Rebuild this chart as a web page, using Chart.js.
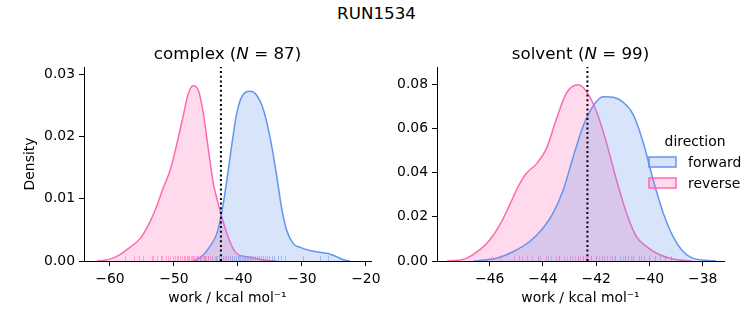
<!DOCTYPE html>
<html>
<head>
<meta charset="utf-8">
<script src="https://cdn.jsdelivr.net/npm/chart.js@4/dist/chart.umd.min.js"></script>
<style>
    body { margin: 0; background: #fff; width: 753px; height: 325px; position: relative; overflow: hidden; }
    #suptitle { position: absolute; left: 0; top: 2.5px; width: 753px; text-align: center; font: 16.7px 'DejaVu Sans'; line-height: 20px; color: #000; }
    canvas { position: absolute; top: 0; }
    #complexChart { left: 0; }
    #solventChart { left: 376px; }
</style>
</head>
<body>
<div id="suptitle">RUN1534</div>
<canvas id="complexChart" width="400" height="325"></canvas>
<canvas id="solventChart" width="377" height="325"></canvas>
<script>
// KDE curves
const complexForwardX = [-47, -46.5, -45.4, -44.4, -43.3, -42.55, -41.8, -41.0, -40.2, -39.4, -38.1, -37.1, -36.0, -35.0, -34.0, -33.2, -32.4, -31.35, -30.3, -28.75, -27.2, -25.9, -24.6, -23.5, -22.5];
const complexForwardY = [0, 0.0002, 0.001, 0.0023, 0.0044, 0.0077, 0.0125, 0.0184, 0.0237, 0.0264, 0.0273, 0.0267, 0.0243, 0.020, 0.0141, 0.0087, 0.005, 0.0028, 0.0022, 0.0017, 0.0014, 0.0012, 0.0007, 0.0002, 0];
const complexReverseX = [-62, -61, -60, -58.5, -57.4, -55.3, -53.75, -52.7, -51.7, -50.6, -49.6, -48.5, -47.8, -47.0, -46.2, -45.4, -44.6, -43.85, -43.1, -42.3, -41.25, -40.2, -38.65, -37.1, -35.5, -34];
const complexReverseY = [0, 0.0001, 0.0003, 0.0010, 0.0018, 0.0036, 0.0063, 0.0088, 0.0117, 0.0146, 0.0186, 0.0236, 0.0268, 0.0282, 0.0275, 0.0237, 0.0178, 0.0125, 0.0093, 0.0063, 0.0031, 0.0012, 0.0007, 0.0004, 0.0001, 0];

const solventForwardX = [-46.6, -46.2, -45.75, -45.12, -44.5, -44.0, -43.62, -43.24, -42.87, -42.49, -42.12, -41.74, -41.36, -40.99, -40.61, -40.24, -39.86, -39.48, -39.11, -38.73, -38.36, -37.9, -37.5];
const solventForwardY = [0, 0.0004, 0.0012, 0.0042, 0.0088, 0.0148, 0.0216, 0.0321, 0.0468, 0.0610, 0.0700, 0.0743, 0.0740, 0.0718, 0.0662, 0.0538, 0.0367, 0.0216, 0.011, 0.0042, 0.0012, 0.0003, 0];
const solventReverseX = [-47.6, -47.2, -46.88, -46.38, -46, -45.62, -45.25, -44.93, -44.62, -44.25, -43.87, -43.5, -43.12, -42.68, -42.37, -41.99, -41.61, -41.24, -40.86, -40.49, -40.11, -39.73, -39.23, -38.86, -38.4];
const solventReverseY = [0, 0.0003, 0.0012, 0.005, 0.0095, 0.0163, 0.0254, 0.0337, 0.0397, 0.0438, 0.0508, 0.0640, 0.0759, 0.0797, 0.0767, 0.0676, 0.0533, 0.0367, 0.0216, 0.011, 0.0065, 0.0035, 0.0012, 0.0004, 0];

// rug samples (approximate)
const complexForwardRug = [-45.9, -45.2, -44.6, -44.0, -43.5, -43.0, -42.4, -42.0, -41.6, -41.2, -40.9, -40.6, -40.3, -40.0, -39.7, -39.4, -39.1, -38.9, -38.6, -38.4, -38.1, -37.9, -37.6, -37.3, -37.0, -36.7, -36.4, -36.1, -35.8, -35.5, -35.1, -34.7, -34.3, -33.8, -33.2, -32.6, -29.8, -27.2, -25.9];
const complexReverseRug = [-57.7, -56.3, -55.5, -54.8, -53.4, -53.2, -52.6, -52.1, -51.8, -51.3, -50.9, -50.6, -50.2, -49.9, -49.6, -49.3, -49.1, -48.8, -48.5, -48.3, -48.0, -47.8, -47.6, -47.4, -47.2, -47.0, -46.8, -46.6, -46.4, -46.2, -46.0, -45.8, -45.5, -45.3, -45.0, -44.7, -44.4, -44.0, -43.6, -43.2, -42.7, -41.9, -40.9, -39.8];
const solventForwardRug = [-44.9, -44.2, -43.8, -43.4, -43.0, -42.7, -42.5, -42.2, -42.0, -41.8, -41.6, -41.4, -41.3, -41.1, -40.9, -40.8, -40.6, -40.4, -40.2, -40.0, -39.8, -39.6, -39.4, -39.2];
const solventReverseRug = [-45.9, -45.6, -45.1, -44.8, -44.6, -44.4, -44.1, -43.9, -43.7, -43.5, -43.4, -43.2, -43.1, -42.9, -42.8, -42.7, -42.6, -42.5, -42.4, -42.3, -42.2, -42.0, -41.9, -41.7, -41.5, -41.3, -41.0, -40.7, -40.3];

// dotted reference lines
const complexMark = -42.66;
const solventMark = -42.33;

const directions = ['forward', 'reverse'];
const colors = { forward: 'rgb(100,149,237)', reverse: 'rgb(255,105,180)' };
const fills = { forward: 'rgba(100,149,237,0.25)', reverse: 'rgba(255,105,180,0.25)' };
const rugColors = { forward: 'rgba(100,149,237,0.5)', reverse: 'rgba(255,105,180,0.5)' };

Chart.defaults.font.family = 'DejaVu Sans';
Chart.defaults.font.size = 13.9;
Chart.defaults.color = '#000';

function toPoints(xs, ys) {
    return xs.map((x, i) => ({ x: x, y: ys[i] }));
}

function kdeDataset(dir, xs, ys) {
    return {
        label: dir,
        data: toPoints(xs, ys),
        borderColor: colors[dir],
        backgroundColor: fills[dir],
        borderWidth: 1.5,
        fill: 'origin',
        pointRadius: 0,
        cubicInterpolationMode: 'monotone'
    };
}

function minusLabel(v) {
    return (v < 0 ? '\u2212' : '') + Math.abs(v);
}

function makeDecor(cfg) {
    return {
        id: 'decor',
        afterDatasetsDraw(chart) {
            const { ctx, chartArea, scales } = chart;
            ctx.save();
            // rug ticks
            cfg.rugs.forEach(r => {
                ctx.strokeStyle = rugColors[r.dir];
                ctx.lineWidth = 1;
                r.values.forEach(v => {
                    const px = Math.round(scales.x.getPixelForValue(v)) + 0.5;
                    ctx.beginPath();
                    ctx.moveTo(px, chartArea.bottom);
                    ctx.lineTo(px, chartArea.bottom - 5);
                    ctx.stroke();
                });
            });
            // dotted line
            const mx = scales.x.getPixelForValue(cfg.mark);
            ctx.strokeStyle = '#000';
            ctx.lineWidth = 2;
            ctx.setLineDash([2, 2.7]);
            ctx.beginPath();
            ctx.moveTo(mx, chartArea.bottom);
            ctx.lineTo(mx, chartArea.top);
            ctx.stroke();
            ctx.setLineDash([]);

            // subplot title with italic N
            const parts = [
                { t: cfg.name + ' (', f: '16.7px "DejaVu Sans"' },
                { t: 'N', f: 'italic 16.7px "DejaVu Sans"' },
                { t: ' = ' + cfg.n + ')', f: '16.7px "DejaVu Sans"' }
            ];
            let total = 0;
            parts.forEach(p => { ctx.font = p.f; p.w = ctx.measureText(p.t).width; total += p.w; });
            let tx = (chartArea.left + chartArea.right) / 2 - total / 2;
            ctx.fillStyle = '#000';
            ctx.textBaseline = 'alphabetic';
            parts.forEach(p => { ctx.font = p.f; ctx.fillText(p.t, tx, 59); tx += p.w; });

            // legend
            if (cfg.legend) {
                const lx = 649 - 376;
                ctx.font = '13.9px "DejaVu Sans"';
                ctx.textAlign = 'center';
                ctx.fillText('direction', 695 - 376, 146);
                ctx.textAlign = 'left';
                directions.forEach((dir, i) => {
                    const ly = 157 + i * 21;
                    ctx.fillStyle = fills[dir];
                    ctx.fillRect(lx, ly, 27, 10);
                    ctx.strokeStyle = colors[dir];
                    ctx.lineWidth = 1.5;
                    ctx.strokeRect(lx, ly, 27, 10);
                    ctx.fillStyle = '#000';
                    ctx.fillText(dir, 688 - 376, ly + 10);
                });
            }
            ctx.restore();
        }
    };
}

function axes(xmin, xmax, xstep, ymax, ystep, yWidth, yTitle) {
    return {
        x: {
            type: 'linear', min: xmin, max: xmax,
            afterFit: s => { s.height = 64; },
            ticks: { stepSize: xstep, includeBounds: false, autoSkip: false, maxRotation: 0, padding: 5, callback: minusLabel },
            grid: { drawOnChartArea: false, tickLength: 5, tickColor: '#000', tickWidth: 1 },
            border: { color: '#000', width: 1 },
            title: { display: true, text: 'work / kcal mol\u207B\u00B9', padding: { top: 0, bottom: 18.6 } }
        },
        y: {
            type: 'linear', min: 0, max: ymax,
            afterFit: s => { s.width = yWidth; },
            ticks: { stepSize: ystep, includeBounds: false, padding: 4, callback: v => v.toFixed(2) },
            grid: { drawOnChartArea: false, tickLength: 5, tickColor: '#000', tickWidth: 1 },
            border: { color: '#000', width: 1 },
            title: { display: !!yTitle, text: yTitle, padding: { top: 21.6, bottom: 0 } }
        }
    };
}

function renderComplex() {
    const ctx = document.getElementById('complexChart').getContext('2d');
    new Chart(ctx, {
        type: 'line',
        data: {
            datasets: [
                kdeDataset('forward', complexForwardX, complexForwardY),
                kdeDataset('reverse', complexReverseX, complexReverseY)
            ]
        },
        options: {
            responsive: false,
            animation: false,
            layout: { padding: { top: 67, right: 29, left: 0, bottom: 0 } },
            plugins: { legend: { display: false }, tooltip: { enabled: false } },
            scales: axes(-64.06, -19.2, 10, 0.0312, 0.01, 84, 'Density')
        },
        plugins: [makeDecor({
            name: 'complex', n: 87, mark: complexMark, legend: false,
            rugs: [{ dir: 'forward', values: complexForwardRug }, { dir: 'reverse', values: complexReverseRug }]
        })]
    });
}

function renderSolvent() {
    const ctx = document.getElementById('solventChart').getContext('2d');
    new Chart(ctx, {
        type: 'line',
        data: {
            datasets: [
                kdeDataset('forward', solventForwardX, solventForwardY),
                kdeDataset('reverse', solventReverseX, solventReverseY)
            ]
        },
        options: {
            responsive: false,
            animation: false,
            layout: { padding: { top: 67, right: 29, left: 0, bottom: 0 } },
            plugins: { legend: { display: false }, tooltip: { enabled: false } },
            scales: axes(-47.98, -37.2, 2, 0.0877, 0.02, 61, '')
        },
        plugins: [makeDecor({
            name: 'solvent', n: 99, mark: solventMark, legend: true,
            rugs: [{ dir: 'forward', values: solventForwardRug }, { dir: 'reverse', values: solventReverseRug }]
        })]
    });
}

renderComplex();
renderSolvent();
</script>
</body>
</html>
